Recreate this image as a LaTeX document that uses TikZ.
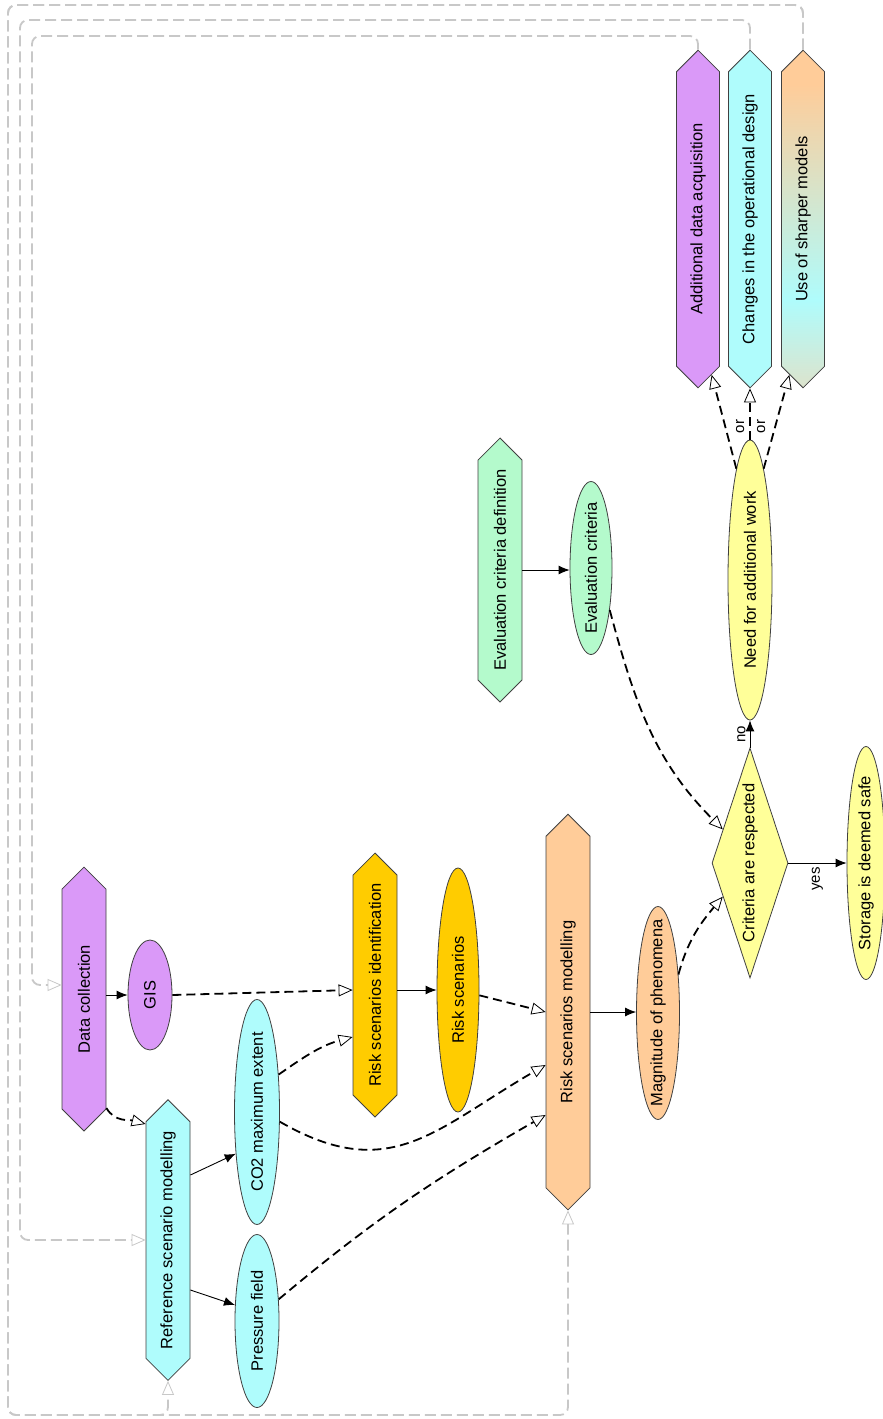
\documentclass[tikz,border=0pt]{standalone}
\usepackage{fontspec}
\setmainfont{Liberation Sans}
\usepackage{graphicx}
\usepackage{xcolor}
\usepackage{tikz}
\usetikzlibrary{calc}
\usetikzlibrary{arrows.meta}
\usetikzlibrary{shapes}
\usetikzlibrary{shapes.geometric}
\usetikzlibrary{shapes.symbols}
\definecolor{dcpurple}{HTML}{DA99F8}
\definecolor{refcyan}{HTML}{AFFCFC}
\definecolor{riskgold}{HTML}{FFCC00}
\definecolor{riskpeach}{HTML}{FFCC99}
\definecolor{crityellow}{HTML}{FFFF99}
\definecolor{evalmint}{HTML}{B4FACC}
\definecolor{usmlow}{HTML}{DDE3CC}
\definecolor{edgegray}{HTML}{404040}
\definecolor{loopgray}{HTML}{C8C8C8}
\pgfdeclareverticalshading{sharpshade}{100bp}{color(0bp)=(usmlow); color(25bp)=(usmlow); color(38bp)=(refcyan); color(70bp)=(riskpeach); color(100bp)=(riskpeach)}
\newcommand{\vtext}[1]{\rotatebox{90}{\makebox[0pt]{#1}}}
\newcommand{\vword}[1]{\rotatebox{90}{#1}}
\tikzset{>=latex}
\tikzstyle{hexa} = [signal, signal to=north and south, draw=edgegray, line width=0.8pt, inner sep=0pt, minimum width=44pt]
\tikzstyle{oval} = [ellipse, draw=edgegray, line width=0.8pt, inner sep=0pt, minimum width=44pt]
\tikzstyle{flow} = [-{Latex[length=11pt, width=9pt]}, line width=0.9pt, draw=black]
\tikzstyle{feed} = [-{Triangle[length=14pt, width=12pt, line width=0.8pt, fill=white]}, line width=1.8pt, dash pattern=on 9pt off 5pt]
\tikzstyle{retro} = [-{Triangle[length=14pt, width=12pt, line width=0.8pt, fill=white]}, line width=1.8pt, draw=loopgray, dash pattern=on 11pt off 5pt, rounded corners=8pt]
\tikzstyle{tag} = [font=\fontsize{15pt}{18pt}\selectfont, inner sep=4pt]

\begin{document}
\begin{tikzpicture}[x=1pt, y=-1pt, font=\fontsize{16.5pt}{19pt}\selectfont]
\path [use as bounding box, fill=white] (0, 0) rectangle (883, 1419);
% data and reference scenario
\node [hexa, fill=dcpurple, minimum height=232pt] (DC) at (84, 999) {\vtext{Data collection}};
\node [oval, fill=dcpurple, minimum height=110pt] (GIS) at (150, 995) {\vtext{GIS}};
\node [hexa, fill=refcyan, minimum height=252pt] (REF) at (168, 1240) {\vtext{Reference scenario modelling}};
\node [oval, fill=refcyan, minimum width=45pt, minimum height=225pt] (CO2) at (257, 1112) {\vtext{CO2 maximum extent}};
\node [oval, fill=refcyan, minimum height=173pt] (PF) at (257, 1321) {\vtext{Pressure field}};
% risk scenarios
\node [hexa, fill=riskgold, minimum height=232pt] (RSI) at (375, 985) {\vtext{Risk scenarios identification}};
\node [oval, fill=riskgold, minimum width=42pt, minimum height=244pt] (RS) at (458, 990) {\vtext{Risk scenarios}};
\node [hexa, fill=riskpeach, minimum height=367pt] (RSM) at (568, 1012) {\vtext{Risk scenarios modelling}};
\node [oval, fill=riskpeach, minimum width=43pt, minimum height=213pt] (MAG) at (658, 1013) {\vtext{Magnitude of phenomena}};
% evaluation
\node [hexa, fill=evalmint, minimum height=232pt] (ECD) at (500, 570) {\vtext{Evaluation criteria definition}};
\node [oval, fill=evalmint, minimum width=42pt, minimum height=173pt] (EC) at (591, 568) {\vtext{Evaluation criteria}};
\node [diamond, draw=edgegray, line width=0.8pt, inner sep=0pt, fill=crityellow, minimum width=76pt, minimum height=230pt] (CRIT) at (750, 863) {\vtext{Criteria are respected}};
\node [oval, fill=crityellow, minimum width=38pt, minimum height=233pt] (SAFE) at (866, 863) {\vtext{Storage is deemed safe}};
\node [oval, fill=crityellow, minimum height=280pt] (NEED) at (750, 580) {\vtext{Need for additional work}};
% additional work
\node [hexa, fill=dcpurple, minimum width=43pt, minimum height=310pt] (ADA) at (698, 219) {\vtext{Additional data acquisition}};
\node [hexa, fill=refcyan, minimum width=43pt, minimum height=310pt] (COD) at (750, 219) {\vtext{Changes in the operational design}};
\node [hexa, shade, shading=sharpshade, minimum width=43pt, minimum height=310pt] (USM) at (803, 219) {\vtext{Use of sharper models}};

\draw [flow] (DC.east |- GIS.west) to (GIS.west);
\draw [feed] (GIS.east) to ($(RSI.west)+(0, 5)$);
\draw [feed] ($(DC.east)+(0, 109)$) to [out=-60, in=165] ($(REF.west)+(0, -116)$);
\draw [flow] ($(REF.east)+(0, -65)$) to (CO2.243);
\draw [flow] ($(REF.east)+(0, 50)$) to (PF.144);
\draw [feed] (CO2.60) to [out=35, in=195] ($(RSI.west)+(0, 52)$);
\draw [feed] (CO2.-23) to [out=-30, in=210, looseness=1.2] ($(RSM.west)+(0, 53)$);
\draw [feed] (PF.45) to [out=40, in=210] ($(RSM.west)+(0, 103)$);
\draw [flow] ($(RSI.east)+(0, 5)$) to (RS.west);
\draw [feed] (RS.-14) to (RSM.west);
\draw [flow] (RSM.east) to (RSM.east -| MAG.west);
\draw [feed] (MAG.62) to [out=75, in=230] (CRIT.231);
\draw [flow] (ECD.east) to (ECD.east -| EC.west);
\draw [feed] (EC.-66) to [out=-75, in=135] (CRIT.129);
\draw [flow] (CRIT.north) to node [tag, left] {\vword{no}} (NEED.south);
\draw [flow] (CRIT.east) to node [tag, below] {\vword{yes}} (SAFE.west);
\draw [feed] (NEED.97) to node [tag, pos=0.45, right=6pt] {\vword{or}} (ADA.-85);
\draw [feed] (NEED.north) to (COD.south);
\draw [feed] (NEED.83) to node [tag, pos=0.45, left=5pt] {\vword{or}} (USM.265);
% feedback loops
\draw [retro] (ADA.north) |- (32, 36) |- ($(DC.west)+(0, -14)$);
\draw [retro] (COD.north) |- (20, 20) |- (REF.west);
\draw [retro] (USM.north) |- (8, 5) -- (8, 1415) -| (REF.south);
\draw [retro] (USM.north) |- (8, 5) -- (8, 1415) -| (RSM.south);
\end{tikzpicture}
\end{document}
